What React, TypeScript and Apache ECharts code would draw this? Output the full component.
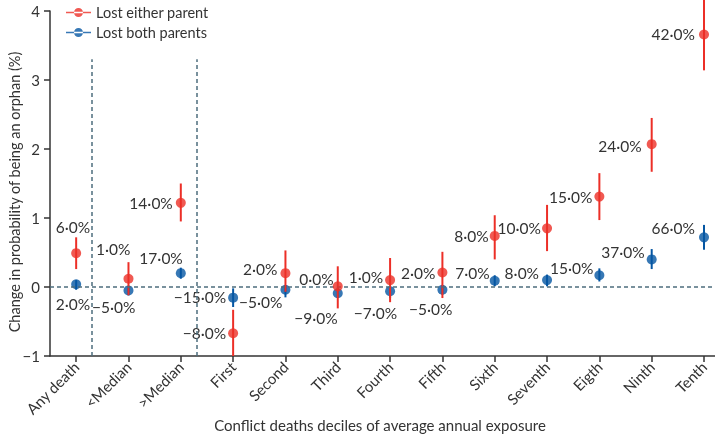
import React, { useEffect, useRef } from "react";
import * as echarts from "echarts";

const categories = ["Any death", "<Median", ">Median", "First", "Second", "Third", "Fourth", "Fifth", "Sixth", "Seventh", "Eigth", "Ninth", "Tenth"];

const eitherValues = [0.49, 0.12, 1.22, -0.67, 0.2, 0.01, 0.1, 0.21, 0.74, 0.85, 1.31, 2.07, 3.66];
const eitherLow = [0.26, -0.12, 0.95, -1.0, -0.07, -0.31, -0.22, -0.16, 0.4, 0.52, 0.97, 1.67, 3.14];
const eitherHigh = [0.72, 0.36, 1.5, -0.33, 0.53, 0.3, 0.42, 0.51, 1.04, 1.19, 1.65, 2.45, 4.18];
const eitherLabels = ["6·0%", "1·0%", "14·0%", "−8·0%", "2·0%", "0·0%", "1·0%", "2·0%", "8·0%", "10·0%", "15·0%", "24·0%", "42·0%"];

const bothValues = [0.04, -0.05, 0.2, -0.155, -0.04, -0.09, -0.06, -0.04, 0.09, 0.1, 0.17, 0.4, 0.72];
const bothLow = [-0.04, -0.12, 0.12, -0.29, -0.15, -0.16, -0.16, -0.11, 0.01, 0.01, 0.08, 0.26, 0.54];
const bothHigh = [0.1, 0.02, 0.28, -0.02, 0.03, -0.01, 0.0, 0.03, 0.17, 0.18, 0.27, 0.55, 0.9];
const bothLabels = ["2·0%", "−5·0%", "17·0%", "−15·0%", "−5·0%", "−9·0%", "−7·0%", "−5·0%", "7·0%", "8·0%", "15·0%", "37·0%", "66·0%"];

const separators = [0.3, 2.3];
const separatorTop = 3.3;

// label placement (layout, not data): offset from point to label's right-middle
const eitherLabelOffset = [[14, -26], [2, -30], [-8, 0], [-7, 0], [-8, -4], [-4, -7], [-7, -3], [-7, 0], [-6, 0], [-6, 0], [-7, 0], [-10, 2], [-9, 0]];
const bothLabelOffset = [[14, 20], [7, 17], [2, -15], [-7, -1], [-3, 12], [0, 25], [7, 22], [10, 19], [-5, -8], [-8, -7], [-6, -7], [-7, -7], [-9, -9]];

const RED = "#ec2f27";
const BLUE = "#0556a3";
const DASH = "#4e6e7e";
const TEXT = "#333333";
const FONT = "Lato, 'Open Sans', sans-serif";

const legendIcon = "path://M0,4.2H25V5.8H0Z M8,5A4.5,4.5 0 1 0 17,5A4.5,4.5 0 1 0 8,5Z";

function errorSeries(name: string, vals: number[], lo: number[], hi: number[], labels: string[], offsets: number[][], color: string, z: number) {
  return {
    type: "custom",
    name,
    z,
    clip: false,
    silent: true,
    data: vals.map((v, i) => [i, lo[i], hi[i], v]),
    encode: { x: 0, y: [1, 2] },
    renderItem: (params: any, api: any) => {
      const i = params.dataIndex;
      const x = api.value(0);
      const top = api.coord([x, api.value(2)]);
      const bot = api.coord([x, api.value(1)]);
      const pt = api.coord([x, api.value(3)]);
      const off = offsets[i];
      return {
        type: "group",
        children: [
          { type: "line", shape: { x1: top[0], y1: top[1], x2: bot[0], y2: bot[1] }, style: { stroke: color, lineWidth: 2 } },
          {
            type: "text",
            x: pt[0] + off[0],
            y: pt[1] + off[1],
            style: {
              text: labels[i],
              textAlign: "right",
              align: "right",
              textVerticalAlign: "middle",
              verticalAlign: "middle",
              fill: TEXT,
              fontSize: 15.5,
              fontFamily: FONT,
            },
          },
        ],
      };
    },
  };
}

export default function App() {
  const ref = useRef<HTMLDivElement>(null);
  useEffect(() => {
    if (!ref.current) return;
    const chart = echarts.init(ref.current, undefined, { renderer: "svg" });
    const idx = categories.map((_, i) => i);
    chart.setOption({
      animation: false,
      textStyle: { fontFamily: FONT },
      grid: { left: 50, right: 0, top: 11, bottom: 79, containLabel: false, outerBoundsMode: "none" },
      legend: {
        data: [
          { name: "Lost either parent", icon: legendIcon },
          { name: "Lost both parents", icon: legendIcon },
        ],
        orient: "vertical",
        left: 61,
        top: 0,
        itemWidth: 25,
        itemHeight: 10,
        itemGap: 5,
        textStyle: { fontSize: 14.5, color: TEXT, fontFamily: FONT },
        selectedMode: false,
      },
      xAxis: {
        type: "value",
        min: -0.5,
        max: 12.21,
        axisLine: { show: true, onZero: false, lineStyle: { color: TEXT, width: 1.5 } },
        axisTick: { show: true, customValues: idx, length: 6, lineStyle: { color: TEXT, width: 1.5 } },
        axisLabel: {
          customValues: idx,
          rotate: 45,
          margin: 8,
          fontSize: 15,
          color: TEXT,
          fontFamily: FONT,
          formatter: (v: number) => categories[Math.round(v)] ?? "",
        },
        splitLine: { show: false },
      },
      yAxis: {
        type: "value",
        min: -1,
        max: 4,
        interval: 1,
        axisLine: { show: true, onZero: false, lineStyle: { color: TEXT, width: 1.5 } },
        axisTick: { show: true, length: 6, lineStyle: { color: TEXT, width: 1.5 } },
        axisLabel: {
          margin: 10,
          fontSize: 15,
          color: TEXT,
          fontFamily: FONT,
          formatter: (v: number) => (v < 0 ? "−" + Math.abs(v) : String(v)),
        },
        splitLine: { show: false },
      },
      graphic: [
        {
          type: "text",
          x: 380,
          y: 425,
          style: {
            text: "Conflict deaths deciles of average annual exposure",
            textAlign: "center",
            align: "center",
            textVerticalAlign: "middle",
            verticalAlign: "middle",
            fill: TEXT,
            fontSize: 15,
            fontFamily: FONT,
          },
        },
        {
          type: "text",
          x: 14,
          y: 192,
          rotation: Math.PI / 2,
          style: {
            text: "Change in probability of being an orphan (%)",
            textAlign: "center",
            align: "center",
            textVerticalAlign: "middle",
            verticalAlign: "middle",
            fill: TEXT,
            fontSize: 14.5,
            fontFamily: FONT,
          },
        },
      ],
      series: [
        errorSeries("bothBars", bothValues, bothLow, bothHigh, bothLabels, bothLabelOffset, BLUE, 2),
        {
          type: "scatter",
          name: "Lost both parents",
          z: 3,
          symbol: "circle",
          symbolSize: 10,
          itemStyle: { color: BLUE },
          data: bothValues.map((v, i) => [i, v]),
          markLine: {
            silent: true,
            symbol: "none",
            label: { show: false },
            lineStyle: { type: [4, 3], color: DASH, width: 1.5 },
            data: [
              { yAxis: 0 },
              ...separators.map((s) => [{ coord: [s, -1] }, { coord: [s, separatorTop] }]),
            ],
          },
        },
        errorSeries("eitherBars", eitherValues, eitherLow, eitherHigh, eitherLabels, eitherLabelOffset, RED, 4),
        {
          type: "scatter",
          name: "Lost either parent",
          z: 5,
          symbol: "circle",
          symbolSize: 10,
          itemStyle: { color: RED },
          data: eitherValues.map((v, i) => [i, v]),
        },
      ],
    });
    return () => chart.dispose();
  }, []);
  return <div ref={ref} style={{ position: "fixed", left: 0, top: 0, width: 715, height: 435 }} />;
}
